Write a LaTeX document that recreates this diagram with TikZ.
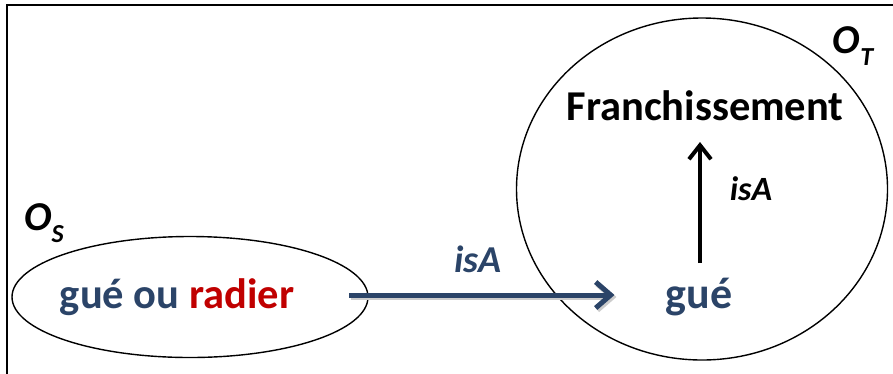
\documentclass[tikz,border=0pt]{standalone}
\usepackage{fontspec}
\setmainfont{Carlito}
\usetikzlibrary{shapes.geometric,arrows.meta,calc}
\definecolor{dblue}{HTML}{2B4468}
\definecolor{dred}{HTML}{C00000}
\tikzset{
  onto/.style={draw=black, line width=1.4pt, ellipse, inner sep=0pt},
  lbl/.style={font=\bfseries, inner sep=0pt, anchor=base},
  rel/.style={font=\bfseries\itshape, inner sep=0pt, anchor=base},
  bluearrow/.style={draw=dblue, line width=5pt, -{Straight Barb[length=15pt,width=26pt,line width=5pt]}},
  shadowarrow/.style={draw=black!20, line width=5.5pt, -{Straight Barb[length=15pt,width=26pt,line width=5.5pt]}},
  blackarrow/.style={draw=black, line width=4pt, -{Straight Barb[length=14pt,width=22pt,line width=4pt]}},
}
\begin{document}
\begin{tikzpicture}[x=1pt,y=-1pt]
\useasboundingbox (0,0) rectangle (893,373);
\draw[line width=2pt] (7,5) rectangle (905,385);
% ontologies
\node[onto, minimum width=356pt, minimum height=121pt] (os) at (190,297) {};
\node[onto, minimum width=371pt, minimum height=342pt] (ot) at (702,189) {};
% ontology labels
\node[rel, font=\fontsize{41}{41}\selectfont\bfseries\itshape] (osl) at (44,230) {O\raisebox{-0.3em}{\fontsize{26}{26}\selectfont S}};
\node[rel, font=\fontsize{41}{41}\selectfont\bfseries\itshape] (otl) at (853,53) {O\raisebox{-0.3em}{\fontsize{26}{26}\selectfont T}};
% concepts
\node[lbl, font=\fontsize{42.5}{42.5}\selectfont\bfseries, text=dblue] (src) at (177,308) {gué ou \textcolor{dred}{radier}};
\node[lbl, font=\fontsize{44}{44}\selectfont\bfseries, text=dblue] (tgt) at (699,308) {gué};
\node[lbl, font=\fontsize{42.5}{42.5}\selectfont\bfseries] (fr) at (705,120) {Franchissement};
% relations
\draw[shadowarrow] ($(src.base east)+(57,-11)$) -- ($(tgt.base west)+(-49,-11)$);
\draw[bluearrow] ($(src.base east)+(55,-13)$) -- ($(tgt.base west)+(-51,-13)$);
\node[rel, font=\fontsize{38}{38}\selectfont\bfseries\itshape, text=dblue] (r1) at (478,272) {isA};
\draw[blackarrow] ($(tgt.base)+(1,-45)$) -- ($(tgt.base |- fr.base)+(1,22)$);
\node[rel, font=\fontsize{34}{34}\selectfont\bfseries\itshape] (r2) at (751,200) {isA};
\end{tikzpicture}
\end{document}
